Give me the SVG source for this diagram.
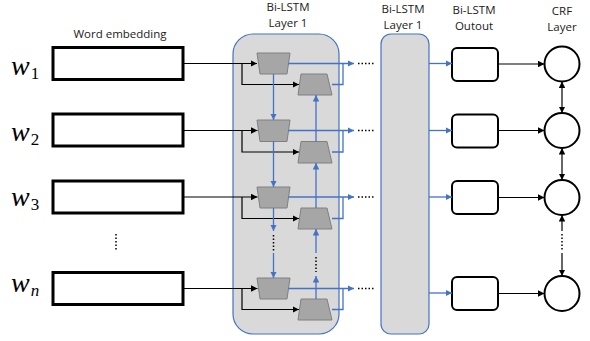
<svg xmlns="http://www.w3.org/2000/svg" width="590" height="341" viewBox="0 0 590 341">
<defs>
<marker id="ab" viewBox="0 0 10 10" refX="10" refY="5" markerWidth="6.5" markerHeight="6.5" markerUnits="userSpaceOnUse" orient="auto"><path d="M0,0 L10,5 L0,10 Z" fill="#4472C4"/></marker>
<marker id="ak" viewBox="0 0 10 10" refX="10" refY="5" markerWidth="6.5" markerHeight="6.5" markerUnits="userSpaceOnUse" orient="auto"><path d="M0,0 L10,5 L0,10 Z" fill="#000"/></marker>
<marker id="aks" viewBox="0 0 10 10" refX="0" refY="5" markerWidth="6.5" markerHeight="6.5" markerUnits="userSpaceOnUse" orient="auto"><path d="M10,0 L0,5 L10,10 Z" fill="#000"/></marker>
</defs>
<style>
.lbl{font-family:"Open Sans","Liberation Sans",sans-serif;font-size:11.5px;fill:#1a1a1a;text-anchor:middle}
.w{font-family:"Liberation Serif",serif;font-style:italic;font-size:28px;fill:#000}
.ws{font-family:"Liberation Serif",serif;font-size:17px;fill:#000}
.wsi{font-family:"Liberation Serif",serif;font-style:italic;font-size:17px;fill:#000}
.emb{fill:#fff;stroke:#000;stroke-width:3}
.out{fill:#fff;stroke:#000;stroke-width:2}
.crf{fill:#fff;stroke:#000;stroke-width:2}
.fw{fill:#a6a6a6;stroke:#808080;stroke-width:1}
.bk{fill:none;stroke:#000;stroke-width:1.2}
.bl{fill:none;stroke:#4472C4;stroke-width:1.3}
.dot{fill:none;stroke:#000;stroke-width:1.5;stroke-dasharray:1.5 2}
.big{fill:#d9d9d9;stroke:#4472C4;stroke-width:1.2}
</style>
<rect width="590" height="341" fill="#fff"/>

<g id="labels">
<text class="lbl" x="120" y="38">Word embedding</text>
<text class="lbl" x="288" y="11">Bi-LSTM</text>
<text class="lbl" x="288" y="27">Layer 1</text>
<text class="lbl" x="403" y="13">Bi-LSTM</text>
<text class="lbl" x="403" y="29">Layer 1</text>
<text class="lbl" x="474" y="14">Bi-LSTM</text>
<text class="lbl" x="474" y="30">Outout</text>
<text class="lbl" x="562" y="15">CRF</text>
<text class="lbl" x="562" y="31">Layer</text>
</g>

<g id="words">
<text x="11" y="75"><tspan class="w">w</tspan><tspan class="ws" dx="1" dy="4">1</tspan></text>
<text x="11" y="141"><tspan class="w">w</tspan><tspan class="ws" dx="1" dy="4">2</tspan></text>
<text x="11" y="206"><tspan class="w">w</tspan><tspan class="ws" dx="1" dy="4">3</tspan></text>
<text x="11" y="292"><tspan class="w">w</tspan><tspan class="wsi" dx="1" dy="4">n</tspan></text>
</g>

<g id="embeddings">
<rect class="emb" x="53" y="47.5" width="130" height="32"/>
<rect class="emb" x="53" y="114" width="130" height="32"/>
<rect class="emb" x="53" y="181" width="130" height="32"/>
<rect class="emb" x="53" y="272.5" width="130" height="32"/>
<line class="dot" x1="116" y1="234" x2="116" y2="251"/>
</g>

<g id="bilstm1">
<rect class="big" x="233" y="34" width="106" height="300" rx="20"/>
<g id="cells">
<polygon class="fw" points="257,53 290,53 287,74 260,74"/>
<polygon class="fw" points="301,74 327,74 332,95 298,95"/>
<polygon class="fw" points="257,120 290,120 287,141.5 260,141.5"/>
<polygon class="fw" points="301,141.5 327,141.5 332,163 298,163"/>
<polygon class="fw" points="257,187 290,187 287,208 260,208"/>
<polygon class="fw" points="301,208 327,208 332,229 298,229"/>
<polygon class="fw" points="257,278 290,278 287,299 260,299"/>
<polygon class="fw" points="301,299 327,299 332,320 298,320"/>
</g>
</g>

<g id="bilstm2">
<rect class="big" x="381" y="34" width="48" height="300" rx="10"/>
</g>

<g id="outputs">
<rect class="out" x="452" y="48" width="46" height="33" rx="5"/>
<rect class="out" x="452" y="114.5" width="46" height="33" rx="5"/>
<rect class="out" x="452" y="181" width="46" height="33" rx="5"/>
<rect class="out" x="452" y="277" width="46" height="33" rx="5"/>
</g>

<g id="crf">
<circle class="crf" cx="562" cy="64" r="17.5"/>
<circle class="crf" cx="562" cy="130.5" r="17.5"/>
<circle class="crf" cx="562" cy="197.5" r="17.5"/>
<circle class="crf" cx="562" cy="293.5" r="17.5"/>
</g>

<g id="connectors">
<path class="bk" d="M183,63.5 H257" marker-end="url(#ak)"/>
<path class="bk" d="M242,63.5 V84.5 H299" marker-end="url(#ak)"/>
<path class="bk" d="M183,130.5 H257.5" marker-end="url(#ak)"/>
<path class="bk" d="M242,130.5 V152 H299" marker-end="url(#ak)"/>
<path class="bk" d="M183,197 H257.5" marker-end="url(#ak)"/>
<path class="bk" d="M242,197 V218.5 H299" marker-end="url(#ak)"/>
<path class="bk" d="M183,288.5 H257.5" marker-end="url(#ak)"/>
<path class="bk" d="M242,288.5 V309.5 H299" marker-end="url(#ak)"/>
<path class="bl" d="M288.5,63.5 H354" marker-end="url(#ab)"/>
<path class="bl" d="M332,84.5 H343 V63.5"/>
<path class="bl" d="M288.5,130.5 H354" marker-end="url(#ab)"/>
<path class="bl" d="M332,152 H343 V130.5"/>
<path class="bl" d="M288.5,197 H354" marker-end="url(#ab)"/>
<path class="bl" d="M332,218.5 H343 V197"/>
<path class="bl" d="M288.5,288.5 H354" marker-end="url(#ab)"/>
<path class="bl" d="M332,309.5 H343 V288.5"/>
<line class="dot" x1="358" y1="63.5" x2="374" y2="63.5"/>
<line class="dot" x1="358" y1="130.5" x2="374" y2="130.5"/>
<line class="dot" x1="358" y1="197" x2="374" y2="197"/>
<line class="dot" x1="358" y1="288.5" x2="374" y2="288.5"/>
<path class="bl" d="M273.5,74 V120" marker-end="url(#ab)"/>
<path class="bl" d="M273.5,141.5 V187" marker-end="url(#ab)"/>
<path class="bl" d="M273.5,208 V231" marker-end="url(#ab)"/>
<line class="dot" x1="273.5" y1="235" x2="273.5" y2="251"/>
<path class="bl" d="M273.5,253 V278" marker-end="url(#ab)"/>
<path class="bl" d="M316,141.5 V95" marker-end="url(#ab)"/>
<path class="bl" d="M316,208 V163" marker-end="url(#ab)"/>
<path class="bl" d="M316,253 V229" marker-end="url(#ab)"/>
<line class="dot" x1="316" y1="257" x2="316" y2="272"/>
<path class="bl" d="M316,299 V276" marker-end="url(#ab)"/>
<path class="bl" d="M429,63.5 H452" marker-end="url(#ab)"/>
<path class="bl" d="M429,130.5 H452" marker-end="url(#ab)"/>
<path class="bl" d="M429,197 H452" marker-end="url(#ab)"/>
<path class="bl" d="M429,293 H452" marker-end="url(#ab)"/>
<path class="bk" d="M498,64 H544.5" marker-end="url(#ak)"/>
<path class="bk" d="M498,130.5 H544.5" marker-end="url(#ak)"/>
<path class="bk" d="M498,197.5 H544.5" marker-end="url(#ak)"/>
<path class="bk" d="M498,293.5 H544.5" marker-end="url(#ak)"/>
<path class="bk" d="M562,81.5 V113" marker-start="url(#aks)" marker-end="url(#ak)"/>
<path class="bk" d="M562,148 V180" marker-start="url(#aks)" marker-end="url(#ak)"/>
<path class="bk" d="M562,215 V231" marker-start="url(#aks)"/>
<line class="dot" x1="562" y1="234" x2="562" y2="250"/>
<path class="bk" d="M562,253 V276" marker-end="url(#ak)"/>
</g>
</svg>
